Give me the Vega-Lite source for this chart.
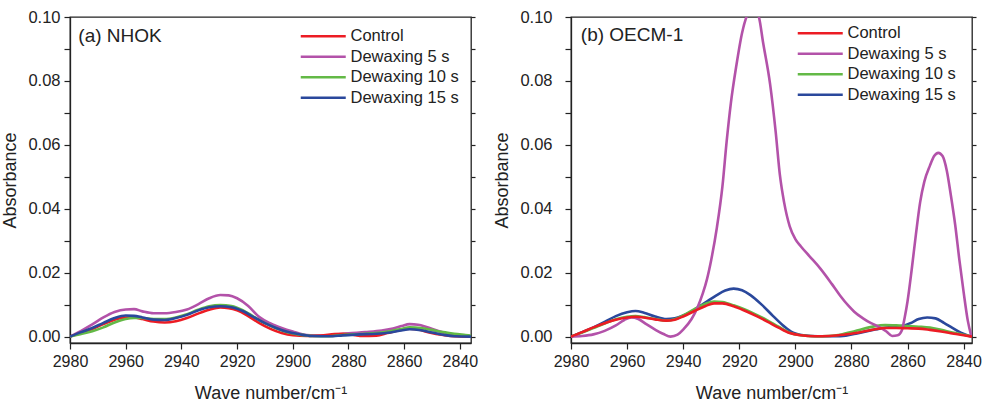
{
  "$schema": "https://vega.github.io/schema/vega-lite/v6.json",
  "padding": {"left": 1, "top": 8, "right": 0, "bottom": 2},
  "spacing": 14,
  "config": {
    "font": "Liberation Sans",
    "view": {"stroke": "#222", "strokeWidth": 1.3},
    "axis": {"domainColor": "#222", "tickColor": "#222", "labelColor": "#222", "titleColor": "#222", "labelFontSize": 16.5, "titleFontSize": 18, "titleFontWeight": "normal", "grid": false, "tickWidth": 1.2, "domainWidth": 1.3}
  },
  "datasets": {
    "nhok": [
      {"s": "Dewaxing 5 s", "x": 2980, "y": 0}, {"s": "Dewaxing 5 s", "x": 2976, "y": 0.0018}, {"s": "Dewaxing 5 s", "x": 2972, "y": 0.0038}, {"s": "Dewaxing 5 s", "x": 2968, "y": 0.006}, {"s": "Dewaxing 5 s", "x": 2964, "y": 0.0077}, {"s": "Dewaxing 5 s", "x": 2960, "y": 0.0085}, {"s": "Dewaxing 5 s", "x": 2957, "y": 0.0086}, {"s": "Dewaxing 5 s", "x": 2954, "y": 0.0079}, {"s": "Dewaxing 5 s", "x": 2950, "y": 0.0073}, {"s": "Dewaxing 5 s", "x": 2946, "y": 0.0073}, {"s": "Dewaxing 5 s", "x": 2942, "y": 0.0077}, {"s": "Dewaxing 5 s", "x": 2938, "y": 0.0085}, {"s": "Dewaxing 5 s", "x": 2934, "y": 0.0101}, {"s": "Dewaxing 5 s", "x": 2930, "y": 0.012}, {"s": "Dewaxing 5 s", "x": 2926, "y": 0.013}, {"s": "Dewaxing 5 s", "x": 2923, "y": 0.0129}, {"s": "Dewaxing 5 s", "x": 2920, "y": 0.012}, {"s": "Dewaxing 5 s", "x": 2916, "y": 0.0096}, {"s": "Dewaxing 5 s", "x": 2912, "y": 0.0061}, {"s": "Dewaxing 5 s", "x": 2908, "y": 0.0041}, {"s": "Dewaxing 5 s", "x": 2904, "y": 0.0027}, {"s": "Dewaxing 5 s", "x": 2900, "y": 0.0016}, {"s": "Dewaxing 5 s", "x": 2895, "y": 0.0005}, {"s": "Dewaxing 5 s", "x": 2890, "y": 0.0003}, {"s": "Dewaxing 5 s", "x": 2886, "y": 0.0005}, {"s": "Dewaxing 5 s", "x": 2880, "y": 0.001}, {"s": "Dewaxing 5 s", "x": 2874, "y": 0.0014}, {"s": "Dewaxing 5 s", "x": 2868, "y": 0.0019}, {"s": "Dewaxing 5 s", "x": 2864, "y": 0.0025}, {"s": "Dewaxing 5 s", "x": 2861, "y": 0.0033}, {"s": "Dewaxing 5 s", "x": 2858, "y": 0.0039}, {"s": "Dewaxing 5 s", "x": 2855, "y": 0.0037}, {"s": "Dewaxing 5 s", "x": 2852, "y": 0.003}, {"s": "Dewaxing 5 s", "x": 2848, "y": 0.0018}, {"s": "Dewaxing 5 s", "x": 2844, "y": 0.0008}, {"s": "Dewaxing 5 s", "x": 2840, "y": 0.0002}, {"s": "Dewaxing 5 s", "x": 2836, "y": 0},
      {"s": "Control", "x": 2980, "y": 0}, {"s": "Control", "x": 2976, "y": 0.0012}, {"s": "Control", "x": 2972, "y": 0.0024}, {"s": "Control", "x": 2968, "y": 0.0039}, {"s": "Control", "x": 2964, "y": 0.0053}, {"s": "Control", "x": 2960, "y": 0.006}, {"s": "Control", "x": 2957, "y": 0.006}, {"s": "Control", "x": 2954, "y": 0.0055}, {"s": "Control", "x": 2950, "y": 0.0047}, {"s": "Control", "x": 2946, "y": 0.0044}, {"s": "Control", "x": 2942, "y": 0.0048}, {"s": "Control", "x": 2938, "y": 0.0058}, {"s": "Control", "x": 2934, "y": 0.0072}, {"s": "Control", "x": 2930, "y": 0.0084}, {"s": "Control", "x": 2926, "y": 0.0091}, {"s": "Control", "x": 2923, "y": 0.0089}, {"s": "Control", "x": 2920, "y": 0.0082}, {"s": "Control", "x": 2916, "y": 0.0064}, {"s": "Control", "x": 2912, "y": 0.0042}, {"s": "Control", "x": 2908, "y": 0.0024}, {"s": "Control", "x": 2904, "y": 0.0011}, {"s": "Control", "x": 2900, "y": 0.0004}, {"s": "Control", "x": 2895, "y": 0.0002}, {"s": "Control", "x": 2890, "y": 0.0003}, {"s": "Control", "x": 2885, "y": 0.0008}, {"s": "Control", "x": 2882, "y": 0.0009}, {"s": "Control", "x": 2878, "y": 0.0005}, {"s": "Control", "x": 2875, "y": 0.0002}, {"s": "Control", "x": 2870, "y": 0.0003}, {"s": "Control", "x": 2866, "y": 0.0011}, {"s": "Control", "x": 2862, "y": 0.002}, {"s": "Control", "x": 2858, "y": 0.0025}, {"s": "Control", "x": 2855, "y": 0.0022}, {"s": "Control", "x": 2851, "y": 0.0013}, {"s": "Control", "x": 2846, "y": 0.0005}, {"s": "Control", "x": 2842, "y": 0.0001}, {"s": "Control", "x": 2836, "y": 0},
      {"s": "Dewaxing 10 s", "x": 2980, "y": 0}, {"s": "Dewaxing 10 s", "x": 2976, "y": 0.0008}, {"s": "Dewaxing 10 s", "x": 2972, "y": 0.0017}, {"s": "Dewaxing 10 s", "x": 2968, "y": 0.0029}, {"s": "Dewaxing 10 s", "x": 2964, "y": 0.0044}, {"s": "Dewaxing 10 s", "x": 2960, "y": 0.0055}, {"s": "Dewaxing 10 s", "x": 2957, "y": 0.0058}, {"s": "Dewaxing 10 s", "x": 2954, "y": 0.0058}, {"s": "Dewaxing 10 s", "x": 2950, "y": 0.0055}, {"s": "Dewaxing 10 s", "x": 2946, "y": 0.0055}, {"s": "Dewaxing 10 s", "x": 2942, "y": 0.006}, {"s": "Dewaxing 10 s", "x": 2938, "y": 0.007}, {"s": "Dewaxing 10 s", "x": 2934, "y": 0.0084}, {"s": "Dewaxing 10 s", "x": 2930, "y": 0.0095}, {"s": "Dewaxing 10 s", "x": 2926, "y": 0.0099}, {"s": "Dewaxing 10 s", "x": 2922, "y": 0.0096}, {"s": "Dewaxing 10 s", "x": 2918, "y": 0.0083}, {"s": "Dewaxing 10 s", "x": 2914, "y": 0.0062}, {"s": "Dewaxing 10 s", "x": 2910, "y": 0.0042}, {"s": "Dewaxing 10 s", "x": 2906, "y": 0.0026}, {"s": "Dewaxing 10 s", "x": 2902, "y": 0.0014}, {"s": "Dewaxing 10 s", "x": 2898, "y": 0.0007}, {"s": "Dewaxing 10 s", "x": 2893, "y": 0.0002}, {"s": "Dewaxing 10 s", "x": 2887, "y": 0.0001}, {"s": "Dewaxing 10 s", "x": 2882, "y": 0.0005}, {"s": "Dewaxing 10 s", "x": 2876, "y": 0.0008}, {"s": "Dewaxing 10 s", "x": 2870, "y": 0.0011}, {"s": "Dewaxing 10 s", "x": 2865, "y": 0.0017}, {"s": "Dewaxing 10 s", "x": 2861, "y": 0.0024}, {"s": "Dewaxing 10 s", "x": 2858, "y": 0.0029}, {"s": "Dewaxing 10 s", "x": 2854, "y": 0.0027}, {"s": "Dewaxing 10 s", "x": 2850, "y": 0.0021}, {"s": "Dewaxing 10 s", "x": 2846, "y": 0.0014}, {"s": "Dewaxing 10 s", "x": 2842, "y": 0.0009}, {"s": "Dewaxing 10 s", "x": 2838, "y": 0.0005}, {"s": "Dewaxing 10 s", "x": 2836, "y": 0.0003},
      {"s": "Dewaxing 15 s", "x": 2980, "y": 0}, {"s": "Dewaxing 15 s", "x": 2976, "y": 0.0014}, {"s": "Dewaxing 15 s", "x": 2972, "y": 0.0027}, {"s": "Dewaxing 15 s", "x": 2968, "y": 0.0043}, {"s": "Dewaxing 15 s", "x": 2964, "y": 0.0058}, {"s": "Dewaxing 15 s", "x": 2960, "y": 0.0066}, {"s": "Dewaxing 15 s", "x": 2957, "y": 0.0065}, {"s": "Dewaxing 15 s", "x": 2954, "y": 0.006}, {"s": "Dewaxing 15 s", "x": 2950, "y": 0.0053}, {"s": "Dewaxing 15 s", "x": 2946, "y": 0.0052}, {"s": "Dewaxing 15 s", "x": 2942, "y": 0.0058}, {"s": "Dewaxing 15 s", "x": 2938, "y": 0.0068}, {"s": "Dewaxing 15 s", "x": 2934, "y": 0.0082}, {"s": "Dewaxing 15 s", "x": 2930, "y": 0.0092}, {"s": "Dewaxing 15 s", "x": 2926, "y": 0.0095}, {"s": "Dewaxing 15 s", "x": 2922, "y": 0.0092}, {"s": "Dewaxing 15 s", "x": 2918, "y": 0.008}, {"s": "Dewaxing 15 s", "x": 2914, "y": 0.0061}, {"s": "Dewaxing 15 s", "x": 2910, "y": 0.0042}, {"s": "Dewaxing 15 s", "x": 2906, "y": 0.0027}, {"s": "Dewaxing 15 s", "x": 2902, "y": 0.0015}, {"s": "Dewaxing 15 s", "x": 2898, "y": 0.0008}, {"s": "Dewaxing 15 s", "x": 2893, "y": 0.0002}, {"s": "Dewaxing 15 s", "x": 2887, "y": 0.0001}, {"s": "Dewaxing 15 s", "x": 2882, "y": 0.0004}, {"s": "Dewaxing 15 s", "x": 2876, "y": 0.0007}, {"s": "Dewaxing 15 s", "x": 2870, "y": 0.0009}, {"s": "Dewaxing 15 s", "x": 2865, "y": 0.0013}, {"s": "Dewaxing 15 s", "x": 2861, "y": 0.0019}, {"s": "Dewaxing 15 s", "x": 2858, "y": 0.0023}, {"s": "Dewaxing 15 s", "x": 2854, "y": 0.002}, {"s": "Dewaxing 15 s", "x": 2850, "y": 0.0013}, {"s": "Dewaxing 15 s", "x": 2846, "y": 0.0006}, {"s": "Dewaxing 15 s", "x": 2842, "y": 0.0001}, {"s": "Dewaxing 15 s", "x": 2836, "y": 0}
    ],
    "oecm": [
      {"s": "Dewaxing 15 s", "x": 2980, "y": 0}, {"s": "Dewaxing 15 s", "x": 2976, "y": 0.0014}, {"s": "Dewaxing 15 s", "x": 2972, "y": 0.0029}, {"s": "Dewaxing 15 s", "x": 2968, "y": 0.0046}, {"s": "Dewaxing 15 s", "x": 2964, "y": 0.0064}, {"s": "Dewaxing 15 s", "x": 2960, "y": 0.0076}, {"s": "Dewaxing 15 s", "x": 2957, "y": 0.008}, {"s": "Dewaxing 15 s", "x": 2954, "y": 0.0075}, {"s": "Dewaxing 15 s", "x": 2950, "y": 0.0063}, {"s": "Dewaxing 15 s", "x": 2946, "y": 0.0055}, {"s": "Dewaxing 15 s", "x": 2943, "y": 0.0057}, {"s": "Dewaxing 15 s", "x": 2940, "y": 0.0066}, {"s": "Dewaxing 15 s", "x": 2936, "y": 0.0084}, {"s": "Dewaxing 15 s", "x": 2932, "y": 0.0107}, {"s": "Dewaxing 15 s", "x": 2928, "y": 0.013}, {"s": "Dewaxing 15 s", "x": 2925, "y": 0.0144}, {"s": "Dewaxing 15 s", "x": 2922, "y": 0.015}, {"s": "Dewaxing 15 s", "x": 2919, "y": 0.0145}, {"s": "Dewaxing 15 s", "x": 2916, "y": 0.013}, {"s": "Dewaxing 15 s", "x": 2912, "y": 0.01}, {"s": "Dewaxing 15 s", "x": 2908, "y": 0.0065}, {"s": "Dewaxing 15 s", "x": 2904, "y": 0.0032}, {"s": "Dewaxing 15 s", "x": 2901, "y": 0.0013}, {"s": "Dewaxing 15 s", "x": 2897, "y": 0.0004}, {"s": "Dewaxing 15 s", "x": 2892, "y": 0.0001}, {"s": "Dewaxing 15 s", "x": 2886, "y": 0.0001}, {"s": "Dewaxing 15 s", "x": 2882, "y": 0.0003}, {"s": "Dewaxing 15 s", "x": 2878, "y": 0.001}, {"s": "Dewaxing 15 s", "x": 2874, "y": 0.0018}, {"s": "Dewaxing 15 s", "x": 2870, "y": 0.0025}, {"s": "Dewaxing 15 s", "x": 2866, "y": 0.003}, {"s": "Dewaxing 15 s", "x": 2862, "y": 0.0033}, {"s": "Dewaxing 15 s", "x": 2859, "y": 0.0042}, {"s": "Dewaxing 15 s", "x": 2856, "y": 0.0055}, {"s": "Dewaxing 15 s", "x": 2853, "y": 0.006}, {"s": "Dewaxing 15 s", "x": 2850, "y": 0.0057}, {"s": "Dewaxing 15 s", "x": 2847, "y": 0.0043}, {"s": "Dewaxing 15 s", "x": 2844, "y": 0.0027}, {"s": "Dewaxing 15 s", "x": 2841, "y": 0.0012}, {"s": "Dewaxing 15 s", "x": 2838, "y": 0.0002}, {"s": "Dewaxing 15 s", "x": 2837, "y": 0},
      {"s": "Dewaxing 10 s", "x": 2980, "y": 0}, {"s": "Dewaxing 10 s", "x": 2976, "y": 0.0013}, {"s": "Dewaxing 10 s", "x": 2972, "y": 0.0027}, {"s": "Dewaxing 10 s", "x": 2968, "y": 0.0041}, {"s": "Dewaxing 10 s", "x": 2964, "y": 0.0054}, {"s": "Dewaxing 10 s", "x": 2960, "y": 0.0062}, {"s": "Dewaxing 10 s", "x": 2957, "y": 0.0064}, {"s": "Dewaxing 10 s", "x": 2954, "y": 0.0061}, {"s": "Dewaxing 10 s", "x": 2950, "y": 0.0055}, {"s": "Dewaxing 10 s", "x": 2946, "y": 0.005}, {"s": "Dewaxing 10 s", "x": 2943, "y": 0.0054}, {"s": "Dewaxing 10 s", "x": 2940, "y": 0.0066}, {"s": "Dewaxing 10 s", "x": 2936, "y": 0.0086}, {"s": "Dewaxing 10 s", "x": 2932, "y": 0.0103}, {"s": "Dewaxing 10 s", "x": 2929, "y": 0.011}, {"s": "Dewaxing 10 s", "x": 2926, "y": 0.0108}, {"s": "Dewaxing 10 s", "x": 2922, "y": 0.0098}, {"s": "Dewaxing 10 s", "x": 2918, "y": 0.0085}, {"s": "Dewaxing 10 s", "x": 2914, "y": 0.0069}, {"s": "Dewaxing 10 s", "x": 2910, "y": 0.0051}, {"s": "Dewaxing 10 s", "x": 2906, "y": 0.0031}, {"s": "Dewaxing 10 s", "x": 2902, "y": 0.0012}, {"s": "Dewaxing 10 s", "x": 2898, "y": 0.0004}, {"s": "Dewaxing 10 s", "x": 2893, "y": 0.0001}, {"s": "Dewaxing 10 s", "x": 2888, "y": 0.0002}, {"s": "Dewaxing 10 s", "x": 2884, "y": 0.0006}, {"s": "Dewaxing 10 s", "x": 2880, "y": 0.0014}, {"s": "Dewaxing 10 s", "x": 2876, "y": 0.0024}, {"s": "Dewaxing 10 s", "x": 2872, "y": 0.0032}, {"s": "Dewaxing 10 s", "x": 2868, "y": 0.0036}, {"s": "Dewaxing 10 s", "x": 2864, "y": 0.0035}, {"s": "Dewaxing 10 s", "x": 2860, "y": 0.0033}, {"s": "Dewaxing 10 s", "x": 2856, "y": 0.0031}, {"s": "Dewaxing 10 s", "x": 2852, "y": 0.0028}, {"s": "Dewaxing 10 s", "x": 2848, "y": 0.0021}, {"s": "Dewaxing 10 s", "x": 2844, "y": 0.0013}, {"s": "Dewaxing 10 s", "x": 2840, "y": 0.0006}, {"s": "Dewaxing 10 s", "x": 2837, "y": 0.0001},
      {"s": "Dewaxing 5 s", "x": 2980, "y": 0}, {"s": "Dewaxing 5 s", "x": 2976, "y": 0.0002}, {"s": "Dewaxing 5 s", "x": 2972, "y": 0.0007}, {"s": "Dewaxing 5 s", "x": 2968, "y": 0.0018}, {"s": "Dewaxing 5 s", "x": 2964, "y": 0.0035}, {"s": "Dewaxing 5 s", "x": 2961, "y": 0.0052}, {"s": "Dewaxing 5 s", "x": 2958.5, "y": 0.006}, {"s": "Dewaxing 5 s", "x": 2956, "y": 0.0055}, {"s": "Dewaxing 5 s", "x": 2953, "y": 0.0038}, {"s": "Dewaxing 5 s", "x": 2950, "y": 0.0022}, {"s": "Dewaxing 5 s", "x": 2947, "y": 0.0008}, {"s": "Dewaxing 5 s", "x": 2944.5, "y": 0}, {"s": "Dewaxing 5 s", "x": 2942, "y": 0.0006}, {"s": "Dewaxing 5 s", "x": 2940, "y": 0.0022}, {"s": "Dewaxing 5 s", "x": 2937, "y": 0.0055}, {"s": "Dewaxing 5 s", "x": 2935, "y": 0.0089}, {"s": "Dewaxing 5 s", "x": 2933, "y": 0.0135}, {"s": "Dewaxing 5 s", "x": 2931.5, "y": 0.018}, {"s": "Dewaxing 5 s", "x": 2930, "y": 0.024}, {"s": "Dewaxing 5 s", "x": 2928, "y": 0.034}, {"s": "Dewaxing 5 s", "x": 2926, "y": 0.047}, {"s": "Dewaxing 5 s", "x": 2924.5, "y": 0.061}, {"s": "Dewaxing 5 s", "x": 2923, "y": 0.073}, {"s": "Dewaxing 5 s", "x": 2921, "y": 0.085}, {"s": "Dewaxing 5 s", "x": 2919, "y": 0.095}, {"s": "Dewaxing 5 s", "x": 2917, "y": 0.101}, {"s": "Dewaxing 5 s", "x": 2915, "y": 0.103}, {"s": "Dewaxing 5 s", "x": 2913, "y": 0.1}, {"s": "Dewaxing 5 s", "x": 2911.5, "y": 0.092}, {"s": "Dewaxing 5 s", "x": 2909, "y": 0.079}, {"s": "Dewaxing 5 s", "x": 2907, "y": 0.064}, {"s": "Dewaxing 5 s", "x": 2905.5, "y": 0.0505}, {"s": "Dewaxing 5 s", "x": 2904, "y": 0.042}, {"s": "Dewaxing 5 s", "x": 2902, "y": 0.0345}, {"s": "Dewaxing 5 s", "x": 2900, "y": 0.0305}, {"s": "Dewaxing 5 s", "x": 2898, "y": 0.0282}, {"s": "Dewaxing 5 s", "x": 2895, "y": 0.0252}, {"s": "Dewaxing 5 s", "x": 2891, "y": 0.0212}, {"s": "Dewaxing 5 s", "x": 2887, "y": 0.0165}, {"s": "Dewaxing 5 s", "x": 2884, "y": 0.0128}, {"s": "Dewaxing 5 s", "x": 2881, "y": 0.0096}, {"s": "Dewaxing 5 s", "x": 2879, "y": 0.0078}, {"s": "Dewaxing 5 s", "x": 2876, "y": 0.0058}, {"s": "Dewaxing 5 s", "x": 2873, "y": 0.0042}, {"s": "Dewaxing 5 s", "x": 2870, "y": 0.003}, {"s": "Dewaxing 5 s", "x": 2867.5, "y": 0.0016}, {"s": "Dewaxing 5 s", "x": 2865.5, "y": 0.0002}, {"s": "Dewaxing 5 s", "x": 2863.5, "y": 0.0004}, {"s": "Dewaxing 5 s", "x": 2862, "y": 0.002}, {"s": "Dewaxing 5 s", "x": 2861, "y": 0.006}, {"s": "Dewaxing 5 s", "x": 2860, "y": 0.011}, {"s": "Dewaxing 5 s", "x": 2858.5, "y": 0.021}, {"s": "Dewaxing 5 s", "x": 2857, "y": 0.032}, {"s": "Dewaxing 5 s", "x": 2855.5, "y": 0.042}, {"s": "Dewaxing 5 s", "x": 2854, "y": 0.0485}, {"s": "Dewaxing 5 s", "x": 2852, "y": 0.0535}, {"s": "Dewaxing 5 s", "x": 2850.5, "y": 0.0565}, {"s": "Dewaxing 5 s", "x": 2849, "y": 0.0575}, {"s": "Dewaxing 5 s", "x": 2847.5, "y": 0.0565}, {"s": "Dewaxing 5 s", "x": 2846, "y": 0.052}, {"s": "Dewaxing 5 s", "x": 2844.5, "y": 0.044}, {"s": "Dewaxing 5 s", "x": 2843, "y": 0.035}, {"s": "Dewaxing 5 s", "x": 2841.5, "y": 0.024}, {"s": "Dewaxing 5 s", "x": 2840, "y": 0.014}, {"s": "Dewaxing 5 s", "x": 2838.5, "y": 0.005}, {"s": "Dewaxing 5 s", "x": 2837.2, "y": 0},
      {"s": "Control", "x": 2980, "y": 0}, {"s": "Control", "x": 2976, "y": 0.0014}, {"s": "Control", "x": 2972, "y": 0.0029}, {"s": "Control", "x": 2968, "y": 0.0042}, {"s": "Control", "x": 2964, "y": 0.0053}, {"s": "Control", "x": 2960, "y": 0.006}, {"s": "Control", "x": 2957, "y": 0.0062}, {"s": "Control", "x": 2954, "y": 0.006}, {"s": "Control", "x": 2950, "y": 0.0054}, {"s": "Control", "x": 2946, "y": 0.005}, {"s": "Control", "x": 2943, "y": 0.0053}, {"s": "Control", "x": 2940, "y": 0.0063}, {"s": "Control", "x": 2936, "y": 0.008}, {"s": "Control", "x": 2932, "y": 0.0096}, {"s": "Control", "x": 2929, "y": 0.0104}, {"s": "Control", "x": 2926, "y": 0.0104}, {"s": "Control", "x": 2922, "y": 0.0095}, {"s": "Control", "x": 2918, "y": 0.0081}, {"s": "Control", "x": 2914, "y": 0.0065}, {"s": "Control", "x": 2910, "y": 0.0047}, {"s": "Control", "x": 2906, "y": 0.0028}, {"s": "Control", "x": 2902, "y": 0.0011}, {"s": "Control", "x": 2898, "y": 0.0004}, {"s": "Control", "x": 2893, "y": 0.0001}, {"s": "Control", "x": 2888, "y": 0.0002}, {"s": "Control", "x": 2884, "y": 0.0005}, {"s": "Control", "x": 2880, "y": 0.0009}, {"s": "Control", "x": 2876, "y": 0.0015}, {"s": "Control", "x": 2872, "y": 0.0022}, {"s": "Control", "x": 2868, "y": 0.0027}, {"s": "Control", "x": 2864, "y": 0.0027}, {"s": "Control", "x": 2860, "y": 0.0026}, {"s": "Control", "x": 2856, "y": 0.0025}, {"s": "Control", "x": 2852, "y": 0.0021}, {"s": "Control", "x": 2848, "y": 0.0016}, {"s": "Control", "x": 2844, "y": 0.001}, {"s": "Control", "x": 2840, "y": 0.0004}, {"s": "Control", "x": 2837, "y": 0}
    ]
  },
  "hconcat": [
    {
      "width": 401,
      "height": 326,
      "resolve": {"axis": {"y": "independent"}},
      "layer": [
        {
          "data": {"name": "nhok"},
          "mark": {"type": "line", "interpolate": "monotone", "strokeWidth": 2.6, "clip": true},
          "encoding": {
            "x": {"field": "x", "type": "quantitative", "scale": {"domain": [2836, 2980], "reverse": true, "nice": false, "zero": false},
              "axis": {"title": "Wave number/cm⁻¹", "values": [2980, 2970, 2960, 2950, 2940, 2930, 2920, 2910, 2900, 2890, 2880, 2870, 2860, 2850, 2840], "labelExpr": "round(datum.value) % 20 == 0 ? format(datum.value, 'd') : ''", "tickSize": 6, "labelPadding": 4, "titlePadding": 15, "labelFlush": false, "labelFontSize": 16}},
            "y": {"field": "y", "type": "quantitative", "scale": {"domain": [-0.002, 0.1], "nice": false, "zero": false},
              "axis": {"orient": "left", "title": "Absorbance", "values": [0, 0.01, 0.02, 0.03, 0.04, 0.05, 0.06, 0.07, 0.08, 0.09, 0.1], "labelExpr": "round(datum.value * 100) % 2 == 0 ? format(datum.value, '.2f') : ''", "tickSize": 6, "labelPadding": 4, "titlePadding": 8}},
            "color": {"field": "s", "type": "nominal",
              "scale": {"domain": ["Control", "Dewaxing 5 s", "Dewaxing 10 s", "Dewaxing 15 s"], "range": ["#ec1c24", "#b352a9", "#63b946", "#2a489c"]},
              "legend": {"title": null, "orient": "none", "legendX": 245, "legendY": 11, "symbolType": "M-4,0H4", "symbolSize": 126.6, "symbolStrokeWidth": 2.5, "labelFontSize": 16.5, "labelColor": "#222", "labelOffset": 19, "rowPadding": 3.5}}
          }
        },
        {
          "data": {"values": [{}]},
          "mark": {"type": "text", "align": "left", "baseline": "middle", "fontSize": 19, "color": "#222"},
          "encoding": {
            "x": {"datum": 2977, "type": "quantitative"},
            "y": {"datum": 0.094, "type": "quantitative", "axis": {"orient": "right", "title": null, "labels": false, "domain": false, "values": [0, 0.01, 0.02, 0.03, 0.04, 0.05, 0.06, 0.07, 0.08, 0.09, 0.1], "tickSize": 4}},
            "text": {"value": "(a) NHOK"}
          }
        }
      ]
    },
    {
      "width": 401,
      "height": 326,
      "resolve": {"axis": {"y": "independent"}},
      "layer": [
        {
          "data": {"name": "oecm"},
          "mark": {"type": "line", "interpolate": "monotone", "strokeWidth": 2.6, "clip": true},
          "encoding": {
            "x": {"field": "x", "type": "quantitative", "scale": {"domain": [2837, 2980], "reverse": true, "nice": false, "zero": false},
              "axis": {"title": "Wave number/cm⁻¹", "values": [2980, 2970, 2960, 2950, 2940, 2930, 2920, 2910, 2900, 2890, 2880, 2870, 2860, 2850, 2840], "labelExpr": "round(datum.value) % 20 == 0 ? format(datum.value, 'd') : ''", "tickSize": 6, "labelPadding": 4, "titlePadding": 15, "labelFlush": false, "labelFontSize": 16}},
            "y": {"field": "y", "type": "quantitative", "scale": {"domain": [-0.002, 0.1], "nice": false, "zero": false},
              "axis": {"orient": "left", "title": "Absorbance", "values": [0, 0.01, 0.02, 0.03, 0.04, 0.05, 0.06, 0.07, 0.08, 0.09, 0.1], "labelExpr": "round(datum.value * 100) % 2 == 0 ? format(datum.value, '.2f') : ''", "tickSize": 6, "labelPadding": 13, "titlePadding": 8}},
            "color": {"field": "s", "type": "nominal",
              "scale": {"domain": ["Control", "Dewaxing 5 s", "Dewaxing 10 s", "Dewaxing 15 s"], "range": ["#ec1c24", "#b352a9", "#63b946", "#2a489c"]},
              "legend": {"title": null, "orient": "none", "legendX": 241, "legendY": 8, "symbolType": "M-4,0H4", "symbolSize": 126.6, "symbolStrokeWidth": 2.5, "labelFontSize": 16.5, "labelColor": "#222", "labelOffset": 19, "rowPadding": 3.5}}
          }
        },
        {
          "data": {"values": [{}]},
          "mark": {"type": "text", "align": "left", "baseline": "middle", "fontSize": 19, "color": "#222"},
          "encoding": {
            "x": {"datum": 2976.5, "type": "quantitative"},
            "y": {"datum": 0.0943, "type": "quantitative", "axis": {"orient": "right", "title": null, "labels": false, "domain": false, "values": [0, 0.01, 0.02, 0.03, 0.04, 0.05, 0.06, 0.07, 0.08, 0.09, 0.1], "tickSize": 4}},
            "text": {"value": "(b) OECM-1"}
          }
        }
      ]
    }
  ],
  "resolve": {"scale": {"color": "independent"}, "legend": {"color": "independent"}}
}
